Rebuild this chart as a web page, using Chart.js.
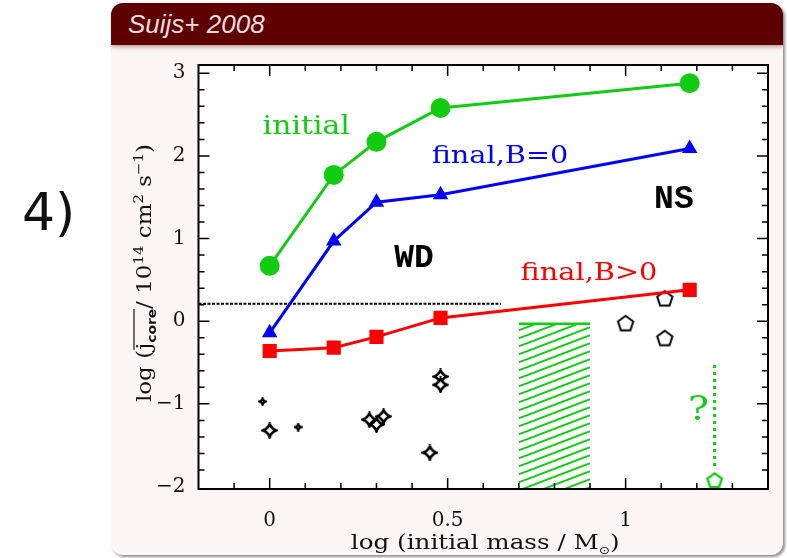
<!DOCTYPE html>
<html lang="en">
<head>
<meta charset="UTF-8">
<title>Suijs+ 2008</title>
<script src="https://cdn.jsdelivr.net/npm/chart.js"></script>
<style>
  body { margin: 0; width: 787px; height: 558px; overflow: hidden; position: relative; background: #fff; }
  .num { position: absolute; left: 22px; top: 186px; font: 52px/52px "DejaVu Sans", sans-serif; color: #111; }
  .block { position: absolute; left: 111px; top: 3px; width: 672px; height: 552px; background: #fcf5f5;
           border-radius: 12px; box-shadow: 2px 2px 3px rgba(0,0,0,0.45); overflow: hidden; }
  .block h2 { margin: 0; height: 42px; padding-left: 17px; background: #5e0000;
              box-shadow: 0 2px 4px rgba(80,0,0,0.35);
              font: italic 26px/42px "Liberation Sans", Arial, sans-serif; font-weight: normal; color: #f2dcdc; }
  #chart { position: absolute; left: 0; top: 0; }
</style>
</head>
<body>
<div class="num">4)</div>
<div class="block"><h2>Suijs+ 2008</h2></div>
<canvas id="chart" width="787" height="558"></canvas>
<script>
const GREEN = '#11cc11', BLUE = '#0000ff', RED = '#ff0000';
const SERIF = '"DejaVu Serif", serif';

// log (initial mass / Msun) of the models
const logMass = [0, 0.18, 0.30, 0.48, 1.18];
// log specific angular momentum of the core
const jInitial = [0.67, 1.77, 2.17, 2.58, 2.88];
const jFinalB0 = [-0.14, 0.97, 1.44, 1.53, 2.09];
const jFinalB = [-0.36, -0.32, -0.19, 0.04, 0.38];

// white dwarfs (observed)
const wdSmallMass = [-0.02, 0.08];
const wdSmallJ = [-0.97, -1.28];
const wdMass = [0, 0.28, 0.30, 0.32, 0.45, 0.48, 0.48];
const wdJ = [-1.32, -1.19, -1.25, -1.15, -1.59, -0.67, -0.77];

// neutron stars (observed)
const nsMass = [1.0, 1.11, 1.11];
const nsJ = [-0.02, 0.28, -0.20];
const magMass = [1.25];
const magJ = [-1.92];
const magUpperJ = [-0.53, -1.80];

// hatched range and WD critical line
const hatchMass = [0.7, 0.9];
const hatchTopJ = -0.03;
const critMass = [-0.2, 0.65];
const critJ = 0.21;

const xTicks = [0, 0.5, 1];
const yTicks = [-2, -1, 0, 1, 2, 3];

const pts = (xs, ys) => xs.map((x, i) => ({ x: x, y: Array.isArray(ys) ? ys[i] : ys }));

function marker(size, draw) {
  const c = document.createElement('canvas');
  c.width = size; c.height = size;
  draw(c.getContext('2d'), size / 2);
  return c;
}
function star(size, lw) {
  return marker(size, (g, h) => {
    const r = h - lw / 2;
    g.translate(h, h);
    g.beginPath();
    for (let i = 0; i <= 64; i++) {
      const t = i / 64 * Math.PI * 2;
      const x = r * Math.pow(Math.cos(t), 3), y = r * Math.pow(Math.sin(t), 3);
      i ? g.lineTo(x, y) : g.moveTo(x, y);
    }
    g.closePath();
    g.fillStyle = '#fff'; g.fill();
    g.strokeStyle = '#000'; g.lineWidth = lw; g.lineJoin = 'round'; g.stroke();
  });
}
function pentagon(size, color, lw) {
  return marker(size, (g, h) => {
    const r = h - lw;
    g.translate(h, h + 1);
    g.beginPath();
    for (let i = 0; i < 5; i++) {
      const a = -Math.PI / 2 + i * 2 * Math.PI / 5;
      g.lineTo(r * Math.cos(a), r * Math.sin(a));
    }
    g.closePath();
    g.strokeStyle = color; g.lineWidth = lw; g.stroke();
  });
}
function hatch() {
  const W = 21, H = 8;
  const c = document.createElement('canvas');
  c.width = W; c.height = H;
  const g = c.getContext('2d');
  g.strokeStyle = GREEN; g.lineWidth = 2;
  g.beginPath();
  for (const k of [-1, 0, 1]) {
    g.moveTo(-W, 2 * H + k * H);
    g.lineTo(2 * W, -H + k * H);
  }
  g.stroke();
  return g.createPattern(c, 'repeat');
}

const labels = [
  { t: 'initial', x: -0.02, y: 2.27, c: GREEN, f: '26px ' + SERIF },
  { t: 'final,B=0', x: 0.455, y: 1.91, c: BLUE, f: '25px ' + SERIF },
  { t: 'final,B>0', x: 0.705, y: 0.50, c: RED, f: '25px ' + SERIF },
  { t: '?', x: 1.175, y: -1.19, c: GREEN, f: '34px ' + SERIF },
  { t: 'NS', x: 1.08, y: 1.37, c: '#000', f: 'bold 33px "Liberation Mono", monospace', s: 1 },
  { t: 'WD', x: 0.35, y: 0.66, c: '#000', f: 'bold 33px "Liberation Mono", monospace', s: 1 }
];

function rich(ctx, parts, cx, cy, sx) {
  let w = 0;
  parts.forEach(p => { ctx.font = p.f; p.w = ctx.measureText(p.t).width * sx; w += p.w; });
  let x = cx - w / 2;
  parts.forEach(p => {
    ctx.save();
    ctx.font = p.f;
    ctx.translate(x, cy + (p.dy || 0));
    ctx.scale(sx, 1);
    ctx.fillText(p.t, 0, 0);
    ctx.restore();
    p.x0 = x; x += p.w;
  });
  return parts;
}

const frame = {
  id: 'frame',
  beforeDraw(chart) {
    const { ctx, chartArea: a } = chart;
    ctx.save();
    ctx.fillStyle = '#fff';
    ctx.fillRect(a.left, a.top, a.right - a.left, a.bottom - a.top);
    ctx.restore();
  },
  afterDraw(chart) {
    const { ctx, chartArea: a, scales: { x, y } } = chart;
    ctx.save();
    ctx.strokeStyle = '#000';
    ctx.lineWidth = 2;
    ctx.strokeRect(a.left, a.top, a.right - a.left, a.bottom - a.top);

    // inward ticks on all four sides
    ctx.lineWidth = 1.5;
    ctx.beginPath();
    for (let i = -1; i < 14; i++) {
      const px = x.getPixelForValue(i / 10);
      const len = i % 5 === 0 ? 11 : 6;
      ctx.moveTo(px, a.bottom); ctx.lineTo(px, a.bottom - len);
      ctx.moveTo(px, a.top); ctx.lineTo(px, a.top + len);
    }
    for (let i = -9; i < 16; i++) {
      const py = y.getPixelForValue(i / 5);
      const len = i % 5 === 0 ? 11 : 6;
      ctx.moveTo(a.left, py); ctx.lineTo(a.left + len, py);
      ctx.moveTo(a.right, py); ctx.lineTo(a.right - len, py);
    }
    ctx.stroke();

    // text inside the plot
    labels.forEach(l => {
      ctx.save();
      ctx.fillStyle = l.c;
      ctx.font = l.f;
      ctx.translate(x.getPixelForValue(l.x), y.getPixelForValue(l.y));
      ctx.scale(l.s || 1.15, 1);
      ctx.fillText(l.t, 0, 0);
      ctx.restore();
    });

    // axis titles
    ctx.fillStyle = '#111';
    const f = '20px ' + SERIF, fs = '13px ' + SERIF;
    rich(ctx, [
      { t: 'log (initial mass / M', f: f },
      { t: '\u2299', f: '11px "DejaVu Sans", sans-serif', dy: 5 },
      { t: ')', f: f }
    ], (a.left + a.right) / 2 + 2, 549, 1.23);

    ctx.save();
    ctx.translate(151, 273);
    ctx.rotate(-Math.PI / 2);
    const p = rich(ctx, [
      { t: 'log (', f: f },
      { t: 'j', f: f },
      { t: 'core', f: 'bold 12px "DejaVu Sans", sans-serif', dy: 5 },
      { t: '/ 10', f: f },
      { t: '14', f: fs, dy: -8 },
      { t: ' cm', f: f },
      { t: '2', f: fs, dy: -8 },
      { t: ' s', f: f },
      { t: '\u22121', f: fs, dy: -8 },
      { t: ')', f: f }
    ], 0, 0, 1.15);
    ctx.lineWidth = 1.2;
    ctx.strokeStyle = '#111';
    ctx.beginPath();
    ctx.moveTo(p[1].x0, -17);
    ctx.lineTo(p[2].x0 + p[2].w, -17);
    ctx.stroke();
    ctx.restore();

    ctx.restore();
  }
};

new Chart(document.getElementById('chart'), {
  type: 'scatter',
  data: {
    datasets: [
      { data: pts(logMass, jInitial), showLine: true, borderColor: GREEN, backgroundColor: GREEN,
        borderWidth: 3, pointStyle: 'circle', pointRadius: 10, pointBorderWidth: 0 },
      { data: pts(logMass, jFinalB0), showLine: true, borderColor: BLUE, backgroundColor: BLUE,
        borderWidth: 3, pointStyle: 'triangle', pointRadius: 9, pointBorderWidth: 0 },
      { data: pts(logMass, jFinalB), showLine: true, borderColor: RED, backgroundColor: RED,
        borderWidth: 3, pointStyle: 'rect', pointRadius: 10, pointBorderWidth: 0 },
      { data: pts(wdSmallMass, wdSmallJ), pointStyle: star(9, 2.4), pointRadius: 5 },
      { data: pts(wdMass, wdJ), pointStyle: star(17, 2.6), pointRadius: 9 },
      { data: pts(nsMass, nsJ), pointStyle: pentagon(20, '#000', 2), pointRadius: 9 },
      { data: pts(magMass, magJ), pointStyle: pentagon(20, GREEN, 2.4), pointRadius: 9 },
      { data: pts([magMass[0], magMass[0]], magUpperJ), showLine: true, borderColor: GREEN,
        borderWidth: 3, borderDash: [3, 4], pointRadius: 0 },
      { data: pts(critMass, critJ), showLine: true, borderColor: '#000',
        borderWidth: 2, borderDash: [3, 1.5], pointRadius: 0 },
      { data: pts(hatchMass, hatchTopJ), showLine: true, borderColor: GREEN, borderWidth: 2.5,
        fill: 'start', backgroundColor: hatch(), pointRadius: 0 }
    ]
  },
  options: {
    responsive: false,
    animation: false,
    events: [],
    layout: { padding: { left: 118.5, top: 65, right: 19, bottom: 9 } },
    plugins: { legend: { display: false }, tooltip: { enabled: false } },
    scales: {
      x: {
        type: 'linear', min: -0.2, max: 1.4,
        grid: { display: false, drawTicks: false },
        border: { display: false },
        afterBuildTicks: s => { s.ticks = xTicks.map(v => ({ value: v })); },
        afterFit: s => { s.height = 60; },
        ticks: { color: '#111', font: { family: SERIF, size: 20 }, padding: 20, maxRotation: 0, autoSkip: false,
                 callback: v => String(v) }
      },
      y: {
        type: 'linear', min: -2.03, max: 3.1,
        grid: { display: false, drawTicks: false },
        border: { display: false },
        afterBuildTicks: s => { s.ticks = yTicks.map(v => ({ value: v })); },
        afterFit: s => { s.width = 80; },
        ticks: { color: '#111', font: { family: SERIF, size: 20 }, padding: 13, autoSkip: false,
                 callback: v => v < 0 ? '\u2212' + Math.abs(v) : String(v) }
      }
    }
  },
  plugins: [frame]
});
</script>
</body>
</html>
